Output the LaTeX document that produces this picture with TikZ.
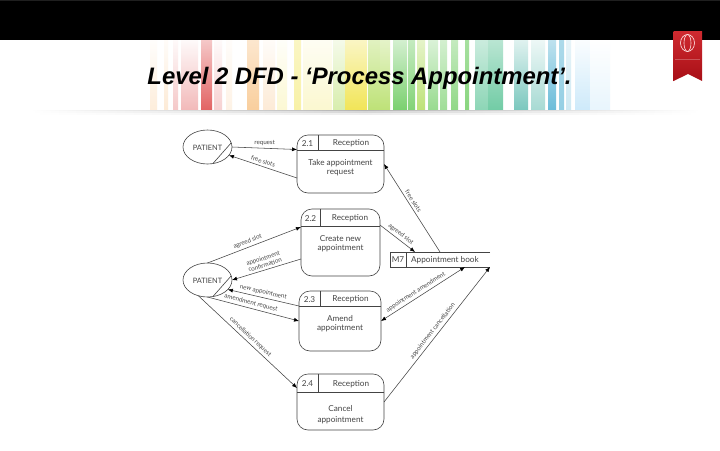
\documentclass[tikz,border=0pt]{standalone}
\usepackage{fontspec}
\setmainfont{Lato}
\newfontfamily\titlefont{Liberation Sans}
\usetikzlibrary{arrows.meta,shapes.geometric}
\definecolor{inkgrey}{HTML}{444444}
\definecolor{ribbonred}{HTML}{CF2A30}
\definecolor{ribbondark}{HTML}{A80F16}
\definecolor{barred}{HTML}{DD4848}
\definecolor{barorange}{HTML}{F5AE5C}
\definecolor{baryellow}{HTML}{EFE03A}
\definecolor{barlime}{HTML}{A8D84A}
\definecolor{bargreen}{HTML}{6CCB5F}
\definecolor{barsea}{HTML}{4FBF8F}
\definecolor{barteal}{HTML}{4FB5A8}
\definecolor{barblue}{HTML}{5BB5D5}
\definecolor{barsky}{HTML}{A5D8F5}
\tikzset{
  flow/.style={inkgrey, line width=0.55pt, -{Latex[length=5pt,width=4pt,color=black]}},
  twoway/.style={flow, {Latex[length=5pt,width=4pt,color=black]}-{Latex[length=5pt,width=4pt,color=black]}},
  lab/.style={text=inkgrey, font=\fontsize{6.2}{6.8}\selectfont, sloped, above=1.2pt, inner sep=1.2pt, align=center},
  patient/.style={ellipse, draw=inkgrey, line width=0.6pt, minimum width=49pt, minimum height=34pt,
                  inner sep=0pt, outer sep=0pt},
  procnode/.style={rectangle, rounded corners=11pt, draw=inkgrey, line width=0.6pt, inner sep=0pt, outer sep=0pt},
  boxtext/.style={text=inkgrey, font=\fontsize{8.2}{9.5}\selectfont, align=center, inner sep=0pt},
}
\begin{document}
\begin{tikzpicture}[x=1pt,y=-1pt]
  \def\textdrop{9}
  \def\proc#1#2#3#4#5#6#7#8#9{%
    \pgfmathsetmacro{\w}{#4-#2}
    \pgfmathsetmacro{\h}{#5-#3}
    \node[procnode, minimum width=\w pt, minimum height=\h pt] (#1) at ({(#2+#4)/2},{(#3+#5)/2}) {};
    \draw[inkgrey, line width=0.6pt] (#2,#6) -- (#4,#6);
    \draw[inkgrey, line width=0.5pt] (#7,#3) -- (#7,#6);
    \node[boxtext] (#1num) at ({(#2+#7)/2},{(#3+#6)/2+.8}) {#8};
    \node[boxtext] (#1role) at ({(#7+#4)/2},{(#3+#6)/2+.8}) {Reception};
    \node[boxtext, anchor=north] (#1text) at ({(#2+#4)/2},#6+\textdrop) {#9};
  }
  \useasboundingbox (0,0) rectangle (720,450);
  \fill[white] (0,0) rectangle (720,450);
  \fill[black] (0,0) rectangle (720,40);
  \fill[black!88] (0,0) rectangle (720,1);

  % colour bars behind the title
  \foreach \xa/\xb/\c/\s/\t in {
    150/157/barorange/22/2, 164/168/barorange/25/4, 173/178/barred/30/3,
    181/198/barred/38/3, 201/212/barred/85/30, 214/222/barred/25/3,
    226/232/barorange/16/3, 247/259/barorange/60/30, 263/275/barorange/25/4,
    277/287/baryellow/22/3, 294/301/baryellow/45/30, 303/332/baryellow/24/6,
    333/345/barlime/45/12, 345/367/baryellow/85/30, 368/380/barlime/75/35,
    380/390/barlime/75/30, 393/407/bargreen/90/30, 408/415/bargreen/85/40,
    417/425/barlime/75/30, 428/438/bargreen/70/25, 440/447/bargreen/65/30,
    451/458/bargreen/75/40, 465/469/bargreen/80/60,
    475/488/barsea/65/30, 488/503/barsea/80/40,
    514/528/barteal/75/18, 531/545/barteal/50/10, 548/556/barblue/90/40,
    559/564/barblue/65/50, 566/571/barblue/30/15, 575/590/barsky/55/5, 590/610/barsky/25/0
  }{
    \shade[bottom color=\c!\s!white, top color=\c!\t!white] (\xa,40) rectangle (\xb,110);
  }
  % soft line under the bars
  \foreach \yy/\k in {110/30,111.5/16,113/7}{
    \shade[left color=white, right color=white, middle color=black!\k] (30,\yy) rectangle (700,\yy+1.5);
  }
  \node[font=\titlefont\fontsize{23.85}{26}\selectfont\bfseries\itshape, text=black, inner sep=0pt] (title) at (359.5,78.5)
    {Level 2 DFD - ‘Process Appointment’.};

  % ribbon
  \shade[top color=ribbonred, bottom color=ribbondark] (673.5,31) -- (702,31) -- (702,81) -- (688,74) -- (673.5,81) -- cycle;
  \draw[white, opacity=.25, line width=0.4pt] (675,59) -- (700,59);
  \draw[white!90!red, line width=0.6pt] (687.5,43) circle [x radius=7, y radius=8.5];
  \draw[white!90!red, line width=0.6pt] (687.5,43) circle [x radius=3.5, y radius=8.5];

  % processes
  \proc{procA}{297}{135}{384}{193}{150}{318}{2.1}{Take appointment\\request}
  \proc{procB}{301}{209}{380}{276}{226}{320}{2.2}{Create new\\appointment}
  \proc{procC}{299}{291}{381}{351}{306}{320}{2.3}{Amend\\appointment}
  \def\textdrop{13}
  \proc{procD}{297}{374}{384}{430}{392}{318}{2.4}{Cancel\\[1.5pt]appointment}

  % patients
  \node[patient] (patA) at (207.5,147) {};
  \node[patient] (patB) at (207.5,280) {};
  \draw[inkgrey, line width=0.6pt] (patA.10) -- (patA.-72);
  \draw[inkgrey, line width=0.6pt] (patB.10) -- (patB.-72);
  \node[boxtext, font=\fontsize{7.4}{9}\selectfont] (patAtext) at (207.5,147.5) {PATIENT};
  \node[boxtext, font=\fontsize{7.4}{9}\selectfont] (patBtext) at (207.5,280.5) {PATIENT};

  % data store
  \node[minimum width=100pt, minimum height=15pt, inner sep=0pt, outer sep=0pt] (store) at (440,259.5) {};
  \draw[inkgrey, line width=0.6pt] (store.north east) -- (store.north west) -- (store.south west) -- (store.south east);
  \draw[inkgrey, line width=0.5pt] (406,252) -- (406,267);
  \node[boxtext] (storeid) at (398,260) {M7};
  \node[boxtext, anchor=west] (storename) at (411,260) {Appointment book};

  % flows
  \draw[flow] (patA.east) -- node[lab] {request} ([yshift=14.5pt]procA.west);
  \draw[flow] ([yshift=-14pt]procA.west) -- node[lab, pos=.52] {free slots} (patA.-21);
  \draw[flow] (patB.north) -- node[lab, pos=.45] {agreed slot} ([yshift=15.5pt]procB.west);
  \draw[flow] ([yshift=-16.5pt]procB.west) -- node[lab, pos=.5] {appointment\\confirmation} (patB.east);
  \draw[flow] ([yshift=15pt]procC.west) -- node[lab, pos=.52] {new appointment} (patB.-25);
  \draw[flow] (patB.south) -- node[lab, pos=.46] {amendment request} (procC.west);
  \draw[flow] (patB.-120) -- node[lab, pos=.49] {cancellation request} ([yshift=14pt]procD.west);
  \draw[flow] (store.north) -- node[lab, pos=.55] {free slots} (procA.east);
  \draw[flow] ([yshift=17.5pt]procB.east) -- node[lab, pos=.5] {agreed slot} ([xshift=-25pt]store.north);
  \draw[twoway] ([xshift=25pt]store.south) -- node[lab, pos=.55] {appointment amendment} (procC.east);
  \draw[flow] (procD.east) -- node[lab, pos=.5] {appointment cancellation} (store.south east);
\end{tikzpicture}
\end{document}
